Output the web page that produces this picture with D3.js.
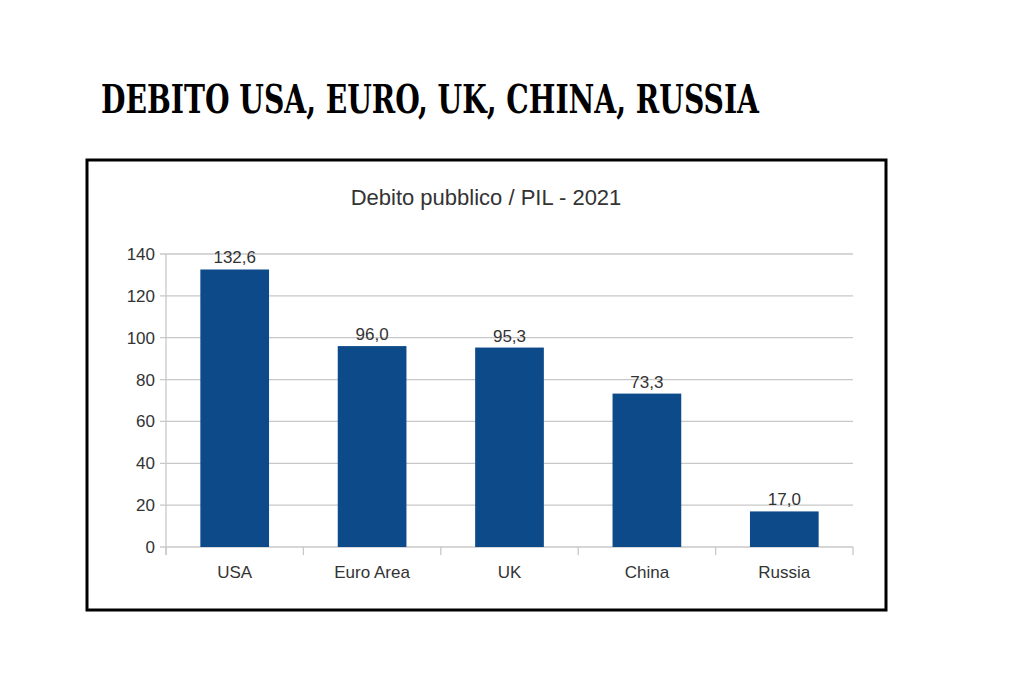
<!DOCTYPE html>
<html><head><meta charset="utf-8">
<script src="https://cdn.jsdelivr.net/npm/d3@7"></script>
<style>html,body{margin:0;padding:0;background:#fff;}</style>
</head><body>
<svg id="c" width="1024" height="682"></svg>
<script>
const categories = ["USA", "Euro Area", "UK", "China", "Russia"];
const values = [132.6, 96.0, 95.3, 73.3, 17.0];
const yTicks = [0, 20, 40, 60, 80, 100, 120, 140];
const mainTitle = "DEBITO USA, EURO, UK, CHINA, RUSSIA";
const chartTitle = "Debito pubblico / PIL - 2021";

(function(){
const svg = d3.select("#c");
svg.append("rect").attr("width",1024).attr("height",682).attr("fill","#fff");

svg.append("text").attr("x",101).attr("y",113)
  .attr("font-family","'DejaVu Serif Condensed','DejaVu Serif',serif")
  .attr("font-weight","bold").attr("font-size",39)
  .attr("textLength",658).attr("lengthAdjust","spacingAndGlyphs")
  .attr("fill","#000").text(mainTitle);

// frame
svg.append("rect").attr("x",87).attr("y",160).attr("width",799).attr("height",450)
  .attr("fill","#fff").attr("stroke","#000").attr("stroke-width",3);

svg.append("text").attr("x",486).attr("y",205).attr("text-anchor","middle")
  .attr("font-family","'Liberation Sans',Arial,sans-serif").attr("font-size",22)
  .attr("fill","#333").text(chartTitle);

const pL=166, pR=853, pT=254, pB=547;
const x = d3.scaleBand().domain(categories).range([pL,pR]).paddingInner(0.5).paddingOuter(0.25);
const y = d3.scaleLinear().domain([0,140]).range([pB,pT]);

const font="'Liberation Sans',Arial,sans-serif";
// gridlines
svg.append("g").selectAll("line").data(yTicks).join("line")
  .attr("x1",pL-6).attr("x2",pR).attr("y1",d=>y(d)).attr("y2",d=>y(d))
  .attr("stroke","#c8c8c8").attr("stroke-width",1.3);
svg.append("g").selectAll("text").data(yTicks).join("text")
  .attr("x",155).attr("y",d=>y(d)+6).attr("text-anchor","end")
  .attr("font-family",font).attr("font-size",17).attr("fill","#333").text(d=>d);

// y axis line
svg.append("line").attr("x1",pL).attr("x2",pL).attr("y1",pT).attr("y2",pB+8)
  .attr("stroke","#c8c8c8").attr("stroke-width",1.3);
// x tick marks at category boundaries
const step = x.step();
const bounds = d3.range(categories.length+1).map(i=>pL+i*step);
svg.append("g").selectAll("line").data(bounds).join("line")
  .attr("x1",d=>d).attr("x2",d=>d).attr("y1",pB).attr("y2",pB+8)
  .attr("stroke","#c8c8c8").attr("stroke-width",1.3);

// bars
svg.append("g").selectAll("rect").data(values).join("rect")
  .attr("x",(d,i)=>x(categories[i])).attr("width",x.bandwidth())
  .attr("y",d=>y(d)).attr("height",d=>y(0)-y(d)).attr("fill","#0c4a89");

// value labels
svg.append("g").selectAll("text").data(values).join("text")
  .attr("x",(d,i)=>x(categories[i])+x.bandwidth()/2).attr("y",d=>y(d)-6)
  .attr("text-anchor","middle").attr("font-family",font).attr("font-size",17)
  .attr("fill","#333").text(d=>d.toFixed(1).replace(".",","));

// x labels
svg.append("g").selectAll("text").data(categories).join("text")
  .attr("x",d=>x(d)+x.bandwidth()/2).attr("y",578).attr("text-anchor","middle")
  .attr("font-family",font).attr("font-size",17).attr("fill","#333").text(d=>d);
})();
</script>
</body></html>
